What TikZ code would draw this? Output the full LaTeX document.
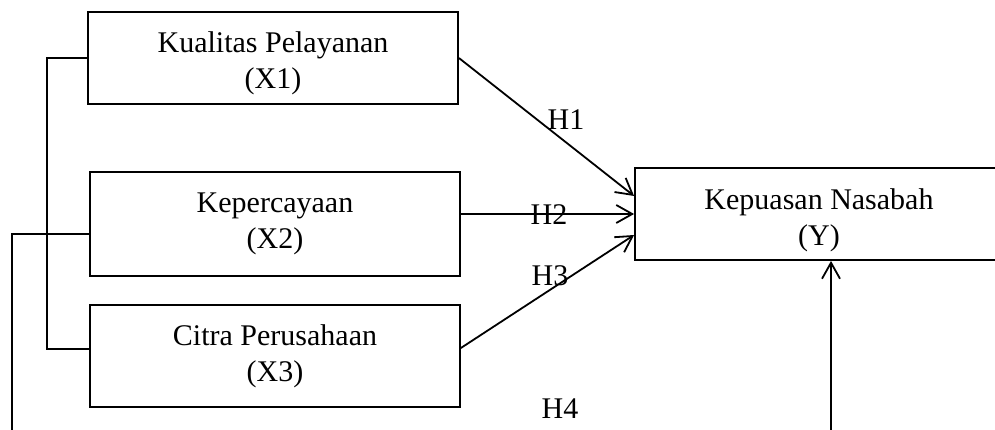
\documentclass[tikz,border=0pt]{standalone}
\usepackage{fontspec}
\setmainfont{Liberation Serif}
\usetikzlibrary{arrows.meta}

\tikzset{
  varbox/.style={draw, line width=1.8pt, inner sep=0pt, align=center,
    font=\fontsize{30}{36}\selectfont},
  link/.style={line width=1.8pt},
  effect/.style={line width=1.8pt, -{Straight Barb[length=16pt,width=18pt,line width=1.8pt]}},
  hyp/.style={inner sep=0pt, font=\fontsize{30}{36}\selectfont}
}

\begin{document}
\begin{tikzpicture}[x=1pt,y=-1pt]
  \useasboundingbox (0,0) rectangle (995,430);
  \clip (0,0) rectangle (995,430);

  % independent variables (the strut lowers the first line a little)
  \node[varbox, minimum width=370pt, minimum height=92pt] (x1) at (273,58)
    {\rule{0pt}{31pt}Kualitas Pelayanan\\(X1)};
  \node[varbox, minimum width=370pt, minimum height=104pt] (x2) at (275,224)
    {Kepercayaan\\(X2)};
  \node[varbox, minimum width=370pt, minimum height=102pt] (x3) at (275,356)
    {Citra Perusahaan\\(X3)};

  % dependent variable (runs past the right edge)
  \node[varbox, minimum width=368pt, minimum height=92pt] (y) at (819,214)
    {\rule{0pt}{34pt}Kepuasan Nasabah\\(Y)};

  % partial effects
  \draw[effect] (x1.east) -- ([yshift=18pt]y.west);
  \draw[effect] (x2.east |- y.west) -- (y.west);
  \draw[effect] ([yshift=8pt]x3.east) -- ([yshift=-21pt]y.west);

  % bracket joining X1 and X3
  \draw[link] (x1.west) -- ++(-40,0) |- ([yshift=7pt]x3.west);

  % joint effect path
  \coordinate (base) at (12,470);
  \draw[effect] ([yshift=-10pt]x2.west) -| (base) -| ([xshift=12pt]y.south);

  % hypothesis labels
  \node[hyp] (h1) at (566,120) {H1};
  \node[hyp] (h2) at (549,215) {H2};
  \node[hyp] (h3) at (550,276) {H3};
  \node[hyp] (h4) at (560,409) {H4};
\end{tikzpicture}
\end{document}
